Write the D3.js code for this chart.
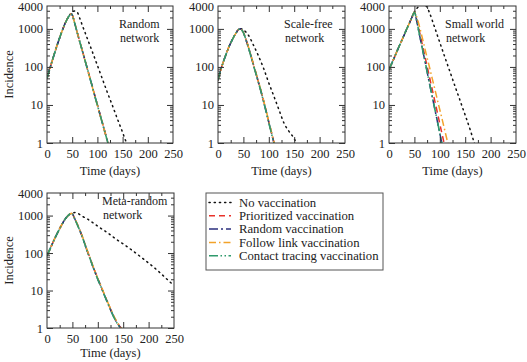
<!DOCTYPE html>
<html><head><meta charset="utf-8">
<script src="https://cdn.jsdelivr.net/npm/d3@7"></script>
<style>
body{margin:0;background:#fff;}
svg text{font-family:"Liberation Serif","Times New Roman",Times,"DejaVu Serif",serif !important;fill:#222;}
</style></head><body>
<svg id="c" width="527" height="362"></svg>
<script>
// ---------- data ----------
const xTicks = [0,50,100,150,200,250];
const yTicks = [1,10,100,1000,4000];
const seriesNames = ["No vaccination","Prioritized vaccination","Random vaccination","Follow link vaccination","Contact tracing vaccination"];

// Random network
const t1V = [0,5,10,15,20,25,30,35,40,45,48,50,55,60,65,70,75,80,85,90,95,100,105,110,115,120,125];
const p1 = [50,85,140,230,370,580,880,1300,1800,2300,2500,2350,1420,810,465,272,157,91,53,30.5,17.5,10.2,5.8,3.4,1.95,1.12,0.62];
const r1 = [50,85,140,230,370,580,880,1300,1800,2300,2500,2350,1400,800,460,270,155,90,52,30,17,10,5.7,3.3,1.9,1.1,0.6];
const f1 = [50,85,140,230,370,580,880,1300,1800,2300,2500,2340,1410,805,462,268,154,89,51,29.5,16.8,9.8,5.6,3.25,1.88,1.08,0.59];
const c1 = [50,85,140,230,370,580,880,1300,1800,2300,2500,2350,1400,800,458,268,155,90,52,30,17,9.9,5.7,3.3,1.9,1.1,0.6];
const t1N = [0,5,10,15,20,25,30,35,40,45,48,52,56,60,65,70,80,90,100,110,120,130,140,150,155,160];
const n1 = [50,85,140,230,370,580,880,1300,1800,2300,2600,2900,2950,2750,1900,1250,560,250,110,48,21,9.5,4.2,1.9,1.25,0.85];

// Scale-free network
const t2V = [0,5,10,15,20,25,30,35,40,43,45,50,55,60,65,70,75,80,85,90,95,100,105,110,115];
const p2 = [45,80,130,200,300,430,580,760,950,1000,980,800,530,330,195,112,66,38,22,12.5,6.8,3.6,1.95,1.05,0.56];
const r2 = [45,80,130,200,300,430,580,760,950,1000,980,800,520,320,190,110,65,38,22,12,6.5,3.5,1.9,1.0,0.55];
const f2 = [45,80,130,200,300,430,580,760,950,1000,980,810,540,335,200,115,68,40,23,12.8,7,3.7,2,1.08,0.58];
const c2 = [45,80,130,200,300,430,580,760,950,1000,980,800,520,318,188,108,64,37,21.5,11.8,6.4,3.4,1.85,0.98,0.54];
const t2N = [0,5,10,15,20,25,30,35,40,43,45,50,55,60,70,80,90,100,110,120,130,140,150,155,160];
const n2 = [45,80,130,200,300,430,580,760,950,1000,1010,960,820,680,370,190,90,38,17,7.5,3.3,2.0,1.3,0.95,0.7];

// Small world network
const t3V = [0,5,10,15,20,25,30,35,40,45,50,55,60,65,70,75,80,85,90,95,100,105,110,115,120];
const p3 = [85,120,170,245,350,490,700,1000,1400,2000,2750,1700,850,420,210,105,52,26,13,6.5,3.2,1.6,0.8,0.4,0.2];
const r3 = [85,120,170,245,350,490,700,1000,1400,2000,2750,1500,700,330,160,75,35,17,8,3.8,1.8,0.85,0.4,0.2,0.1];
const f3 = [85,120,170,245,350,490,700,1000,1400,2000,2800,2000,1150,620,330,175,95,50,27,14,7.5,4,2.1,1.1,0.6];
const c3 = [85,120,170,245,350,490,700,1000,1400,2000,2750,1520,710,335,162,76,35.5,17,8.1,3.85,1.82,0.86,0.41,0.2,0.1];
const t3N = [0,5,10,15,20,25,30,35,40,45,50,55,60,65,70,75,80,90,100,110,120,130,140,150,160,168,175];
const n3 = [85,120,170,245,350,490,700,1000,1400,2000,2800,3500,4000,4300,4200,3700,2600,1080,440,180,75,31,13,5.4,2.2,1.0,0.55];

// Meta-random network
const t4V = [0,5,10,15,20,25,30,35,40,45,48,50,55,60,65,70,75,80,85,90,95,100,105,110,115,120,125,130,135,140,145,150];
const p4 = [85,120,170,240,330,450,600,780,950,1100,1150,1100,810,570,395,265,168,108,72,46,31,20.5,14.3,9.7,6.6,4.6,3.2,2.25,1.65,1.28,1.02,0.77];
const r4 = [85,120,170,240,330,450,600,780,950,1100,1150,1100,800,560,390,260,165,105,70,45,30,20,14,9.5,6.5,4.5,3.1,2.2,1.6,1.25,1.0,0.75];
const f4 = [85,120,170,240,330,450,600,780,950,1100,1150,1100,820,575,400,268,170,110,73,47,32,21,14.6,10,6.8,4.7,3.3,2.3,1.7,1.3,1.05,0.8];
const c4 = [85,120,170,240,330,450,600,780,950,1100,1150,1100,795,555,385,257,163,104,69,44.5,29.6,19.8,13.8,9.4,6.4,4.45,3.05,2.15,1.58,1.22,0.98,0.73];
const t4N = [0,5,10,15,20,25,30,35,40,45,48,50,55,60,70,80,90,100,110,120,130,140,150,160,170,180,190,200,210,220,230,240,250];
const n4 = [85,120,170,240,330,450,600,780,950,1100,1150,1170,1200,1150,950,800,650,520,420,340,270,215,175,140,112,88,69,54,42,32,24,18,13.5];

const panels = [
  {label:["Random","network"], tx:119, ty:28, x0:47, x1:173, y0:6, y1:143, leftLabel:true, titleDy:32,
   series:[[t1N,n1],[t1V,p1],[t1V,r1],[t1V,f1],[t1V,c1]]},
  {label:["Scale-free","network"], tx:284, ty:28, x0:218, x1:345, y0:6, y1:143, leftLabel:false, titleDy:32,
   series:[[t2N,n2],[t2V,p2],[t2V,r2],[t2V,f2],[t2V,c2]]},
  {label:["Small world","network"], tx:445, ty:28, x0:389, x1:516, y0:6, y1:143, leftLabel:false, titleDy:32,
   series:[[t3N,n3],[t3V,p3],[t3V,r3],[t3V,f3],[t3V,c3]]},
  {label:["Meta-random","network"], tx:102, ty:205, x0:47, x1:174, y0:193, y1:328, leftLabel:true, titleDy:29,
   series:[[t4N,n4],[t4V,p4],[t4V,r4],[t4V,f4],[t4V,c4]]}
];

const styles = [
  {color:"#111", dash:"1.2,4", w:1.5, cap:"round"},
  {color:"#e8322b", dash:"6,4", w:1.5, cap:"butt"},
  {color:"#2b2f7e", dash:"9,3,2,3", w:1.5, cap:"butt"},
  {color:"#f2a22a", dash:"7,3,1.5,3", w:1.5, cap:"butt"},
  {color:"#2f9a6c", dash:"9,2.5,1.5,2.5,1.5,2.5", w:1.6, cap:"butt"}
];

const svg = d3.select("#c");
const FS = 12.5;
const FA = 12;

panels.forEach((p,i)=>{
  const x = d3.scaleLinear().domain([0,250]).range([p.x0,p.x1]);
  const y = d3.scaleLog().domain([1,4000]).range([p.y1,p.y0]);
  const g = svg.append("g");
  const cid = "clip"+i;
  svg.append("defs").append("clipPath").attr("id",cid).append("rect")
    .attr("x",p.x0).attr("y",p.y0).attr("width",p.x1-p.x0).attr("height",p.y1-p.y0);

  const line = d3.line().x(d=>x(d[0])).y(d=>y(d[1])).curve(d3.curveMonotoneX);
  const cg = g.append("g").attr("clip-path",`url(#${cid})`);
  p.series.forEach((s,k)=>{
    const pts = s[0].map((t,j)=>[t,s[1][j]]);
    const st = styles[k];
    cg.append("path").attr("d",line(pts)).attr("fill","none")
      .attr("stroke",st.color).attr("stroke-width",st.w)
      .attr("stroke-dasharray",st.dash).attr("stroke-linecap",st.cap);
  });

  g.append("rect").attr("x",p.x0).attr("y",p.y0).attr("width",p.x1-p.x0).attr("height",p.y1-p.y0)
    .attr("fill","none").attr("stroke","#333").attr("stroke-width",1);

  const minorX = d3.range(25,250,50);
  const bottom = d3.axisBottom(x).tickValues(xTicks).tickSize(-6).tickPadding(6).tickFormat(d3.format("d"));
  const bAx = g.append("g").attr("transform",`translate(0,${p.y1})`).call(bottom);
  const tAx = g.append("g").attr("transform",`translate(0,${p.y0})`).call(d3.axisTop(x).tickValues(xTicks).tickSize(-6).tickFormat(""));
  const bMin = g.append("g").attr("transform",`translate(0,${p.y1})`).call(d3.axisBottom(x).tickValues(minorX).tickSize(-3).tickFormat(""));
  const tMin = g.append("g").attr("transform",`translate(0,${p.y0})`).call(d3.axisTop(x).tickValues(minorX).tickSize(-3).tickFormat(""));

  const minorY = [];
  [1,10,100,1000].forEach(b=>{for(let m=2;m<=9;m++){ if(b*m<4000) minorY.push(b*m);} });
  const left = d3.axisLeft(y).tickValues(yTicks).tickSize(-6).tickPadding(4).tickFormat(d3.format("d"));
  const lAx = g.append("g").attr("transform",`translate(${p.x0},0)`).call(left);
  const rAx = g.append("g").attr("transform",`translate(${p.x1},0)`).call(d3.axisRight(y).tickValues(yTicks).tickSize(-6).tickFormat(""));
  const lMin = g.append("g").attr("transform",`translate(${p.x0},0)`).call(d3.axisLeft(y).tickValues(minorY).tickSize(-3).tickFormat(""));
  const rMin = g.append("g").attr("transform",`translate(${p.x1},0)`).call(d3.axisRight(y).tickValues(minorY).tickSize(-3).tickFormat(""));

  [bAx,tAx,bMin,tMin,lAx,rAx,lMin,rMin].forEach(a=>{
    a.attr("font-family",null);
    a.select(".domain").remove();
    a.selectAll(".tick line").attr("stroke","#333");
    a.selectAll("text").attr("font-size",FS).attr("fill","#222");
  });
  lAx.selectAll(".tick").filter(d=>d===4000).select("line").remove();
  rAx.selectAll(".tick").filter(d=>d===4000).select("line").remove();
  bAx.selectAll(".tick").filter(d=>d===0||d===250).select("line").remove();
  tAx.selectAll(".tick").filter(d=>d===0||d===250).select("line").remove();

  g.append("text").attr("x",(p.x0+p.x1)/2).attr("y",p.y1+p.titleDy).attr("text-anchor","middle")
    .attr("font-size",FS).text("Time (days)");
  if(p.leftLabel){
    g.append("text").attr("transform",`translate(13,${(p.y0+p.y1)/2}) rotate(-90)`)
      .attr("text-anchor","middle").attr("font-size",FS).text("Incidence");
  }
  g.append("text").attr("x",p.tx).attr("y",p.ty).attr("font-size",FA).text(p.label[0]);
  g.append("text").attr("x",p.tx+1).attr("y",p.ty+13.5).attr("font-size",FA).text(p.label[1]);
});

// legend
const lg = svg.append("g");
lg.append("rect").attr("x",206).attr("y",193).attr("width",177).attr("height",77)
  .attr("fill","#fff").attr("stroke","#555").attr("stroke-width",1);
seriesNames.forEach((n,k)=>{
  const cy = 202.5 + k*13.3;
  const st = styles[k];
  lg.append("line").attr("x1",209).attr("x2",231).attr("y1",cy).attr("y2",cy)
    .attr("stroke",st.color).attr("stroke-width",st.w).attr("stroke-dasharray",st.dash).attr("stroke-linecap",st.cap);
  lg.append("text").attr("x",239).attr("y",cy+4.3).attr("font-size",12.7).text(n);
});
</script>
</body></html>
